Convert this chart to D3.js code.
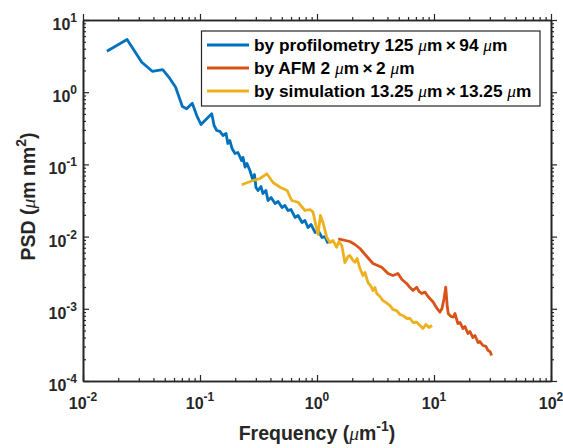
<!DOCTYPE html>
<html>
<head>
<meta charset="utf-8">
<script src="https://cdn.jsdelivr.net/npm/d3@7"></script>
<style>
  body { margin: 0; background: #fff; }
  svg { display: block; font-family: "Liberation Sans", Arial, sans-serif; }
</style>
</head>
<body>
<div class="container"></div>
<script>
// data: [frequency (um^-1), PSD (um nm^2)]
const profilometry = [
  [0.016, 3.7], [0.0238, 5.37], [0.0318, 2.6], [0.0391, 1.95], [0.048, 2.06],
  [0.0543, 1.61], [0.0619, 1.17], [0.0707, 0.634], [0.0769, 0.589], [0.0859, 0.705],
  [0.0938, 0.475], [0.102, 0.357], [0.1124, 0.419], [0.126, 0.502], [0.132, 0.346],
  [0.139, 0.295], [0.148, 0.286], [0.157, 0.251], [0.167, 0.268], [0.173, 0.195],
  [0.18, 0.214], [0.188, 0.166], [0.199, 0.1416], [0.211, 0.146], [0.227, 0.113],
  [0.233, 0.125], [0.243, 0.0915], [0.252, 0.103], [0.267, 0.0824], [0.284, 0.0598],
  [0.292, 0.0724], [0.301, 0.0479], [0.313, 0.0435], [0.332, 0.0494], [0.345, 0.0395],
  [0.366, 0.0435], [0.381, 0.0316], [0.405, 0.0348], [0.438, 0.0287], [0.465, 0.0306],
  [0.502, 0.0253], [0.532, 0.027], [0.565, 0.023], [0.6, 0.0237], [0.649, 0.0184],
  [0.689, 0.0196], [0.745, 0.01567], [0.789, 0.0167], [0.838, 0.01337], [0.889, 0.01472],
  [0.962, 0.0114], [1.02, 0.01216], [1.104, 0.00972], [1.17, 0.01], [1.242, 0.00802]
];
const afm = [
  [1.52, 0.00933], [1.91, 0.00855], [2.11, 0.00778], [2.33, 0.00684], [2.62, 0.00547],
  [3.01, 0.00424], [3.57, 0.00377], [4.05, 0.00308], [4.47, 0.00289], [4.92, 0.00308],
  [5.32, 0.00255], [5.84, 0.00224], [6.24, 0.00197], [6.62, 0.00179], [7.11, 0.00199],
  [7.45, 0.00174], [7.85, 0.00163], [8.37, 0.0017], [8.89, 0.00148], [9.86, 0.00123],
  [10.6, 0.00101], [11.25, 0.000897], [11.7, 0.00101], [12.2, 0.00139], [12.6, 0.00199],
  [13.0, 0.00105], [13.25, 0.000853], [14.0, 0.000782], [14.6, 0.000766], [15.1, 0.000861],
  [16.0, 0.000626], [16.7, 0.000646], [17.7, 0.000533], [18.4, 0.000569], [19.5, 0.000455],
  [20.3, 0.000485], [21.5, 0.0004], [22.4, 0.000427], [23.8, 0.000341], [24.7, 0.000352],
  [26.2, 0.00031], [27.8, 0.000301], [29.0, 0.000264], [30.1, 0.000256], [31.1, 0.000225]
];
const simulation = [
  [0.227, 0.0522], [0.284, 0.0598], [0.326, 0.0638], [0.372, 0.0741], [0.421, 0.0561],
  [0.483, 0.0483], [0.555, 0.0435], [0.608, 0.0316], [0.689, 0.0299], [0.789, 0.023],
  [0.871, 0.0237], [0.925, 0.0218], [0.979, 0.01425], [1.02, 0.0107], [1.07, 0.0196],
  [1.125, 0.01567], [1.21, 0.00981], [1.29, 0.00828], [1.37, 0.00883], [1.47, 0.00713],
  [1.54, 0.00855], [1.63, 0.00753], [1.73, 0.00438], [1.84, 0.0053], [1.91, 0.00547],
  [2.03, 0.00467], [2.11, 0.00442], [2.2, 0.00498], [2.33, 0.00361], [2.47, 0.00289],
  [2.57, 0.00318], [2.73, 0.00231], [2.9, 0.00204], [3.01, 0.00179], [3.13, 0.00197],
  [3.24, 0.00163], [3.45, 0.00148], [3.66, 0.0013], [3.89, 0.00122], [4.21, 0.00111],
  [4.47, 0.000977], [4.8, 0.000946], [5.12, 0.000834], [5.43, 0.000807], [5.88, 0.000734],
  [6.24, 0.000734], [6.62, 0.000646], [7.11, 0.000652], [7.59, 0.000587], [8.05, 0.000533],
  [8.55, 0.000607], [9.06, 0.000551], [9.62, 0.000587]
];

const seriesNames = [
  ["by profilometry 125 ", "\u03bc", "m\u2009\u00d7\u200994 ", "\u03bc", "m"],
  ["by AFM 2 ", "\u03bc", "m\u2009\u00d7\u20092 ", "\u03bc", "m"],
  ["by simulation 13.25 ", "\u03bc", "m\u2009\u00d7\u200913.25 ", "\u03bc", "m"]
];
const seriesColors = ["#0072BD", "#D95319", "#EDB120"];
const xDecades = [-2, -1, 0, 1, 2];
const yDecades = [-4, -3, -2, -1, 0, 1];

const width = 563, height = 448;
const margin = { top: 20, right: 12, bottom: 67, left: 83 };
const axisColor = "#262626";

const svg = d3.select(".container").append("svg")
  .attr("width", width).attr("height", height);

const x = d3.scaleLog().domain([1e-2, 1e2]).range([margin.left, width - margin.right]);
const y = d3.scaleLog().domain([1e-4, 1e1]).range([height - margin.bottom, margin.top]);

const xMajor = xDecades.map(e => Math.pow(10, e));
const yMajor = yDecades.map(e => Math.pow(10, e));
function minors(decs) {
  const out = [];
  decs.slice(0, -1).forEach(e => { for (let k = 2; k <= 9; k++) out.push(k * Math.pow(10, e)); });
  return out;
}

// lines
const line = d3.line().x(d => x(d[0])).y(d => y(d[1]));
[profilometry, afm, simulation].forEach((s, i) => {
  svg.append("path").datum(s)
    .attr("d", line)
    .attr("fill", "none")
    .attr("stroke", seriesColors[i])
    .attr("stroke-width", 2.8)
    .attr("stroke-linejoin", "round");
});

// axes (box, ticks pointing in)
function styleAxis(g) {
  g.selectAll("path").attr("stroke", axisColor).attr("stroke-width", 1.6);
  g.selectAll("line").attr("stroke", axisColor).attr("stroke-width", 1.2);
  g.selectAll("text").remove();
}
const plotBottom = height - margin.bottom, plotTop = margin.top;
const plotLeft = margin.left, plotRight = width - margin.right;

[[d3.axisBottom, plotBottom, 1], [d3.axisTop, plotTop, -1]].forEach(([ax, yy, dir]) => {
  svg.append("g").attr("transform", `translate(0,${yy})`)
    .call(ax(x).tickValues(minors(xDecades)).tickSize(-3 * dir).tickSizeOuter(0).tickFormat(""))
    .call(styleAxis);
  svg.append("g").attr("transform", `translate(0,${yy})`)
    .call(ax(x).tickValues(xMajor).tickSize(-6 * dir).tickSizeOuter(0).tickFormat(""))
    .call(styleAxis);
});
[[d3.axisLeft, plotLeft, 1], [d3.axisRight, plotRight, -1]].forEach(([ax, xx, dir]) => {
  svg.append("g").attr("transform", `translate(${xx},0)`)
    .call(ax(y).tickValues(minors(yDecades)).tickSize(-3 * dir).tickSizeOuter(0).tickFormat(""))
    .call(styleAxis);
  svg.append("g").attr("transform", `translate(${xx},0)`)
    .call(ax(y).tickValues(yMajor).tickSize(-6 * dir).tickSizeOuter(0).tickFormat(""))
    .call(styleAxis);
});

// tick labels 10^n
function powLabel(sel, e) {
  sel.append("tspan").text("10");
  sel.append("tspan").attr("dy", -8).attr("font-size", 12).text(e);
}
xDecades.forEach(e => {
  const t = svg.append("text")
    .attr("x", x(Math.pow(10, e))).attr("y", plotBottom + 28)
    .attr("text-anchor", "middle").attr("font-size", 16).attr("font-weight", "bold")
    .attr("fill", axisColor);
  powLabel(t, e);
});
yDecades.forEach(e => {
  const t = svg.append("text")
    .attr("x", plotLeft - 6).attr("y", y(Math.pow(10, e)) + 10)
    .attr("text-anchor", "end").attr("font-size", 16).attr("font-weight", "bold")
    .attr("fill", axisColor);
  powLabel(t, e);
});

// axis titles
const mu = sel => sel.append("tspan").attr("font-family", "Liberation Serif, serif")
  .attr("font-style", "italic").attr("font-weight", "normal").text("\u03bc");
const xl = svg.append("text")
  .attr("x", (plotLeft + plotRight) / 2).attr("y", 440)
  .attr("text-anchor", "middle").attr("font-size", 19.5).attr("font-weight", "bold")
  .attr("fill", axisColor);
xl.append("tspan").text("Frequency (");
mu(xl);
xl.append("tspan").text("m");
xl.append("tspan").attr("dy", -9).attr("font-size", 14).text("-1");
xl.append("tspan").attr("dy", 9).text(")");

const yl = svg.append("text")
  .attr("transform", `translate(35,${(plotTop + plotBottom) / 2 - 4}) rotate(-90)`)
  .attr("text-anchor", "middle").attr("font-size", 19.5).attr("font-weight", "bold")
  .attr("fill", axisColor);
yl.append("tspan").text("PSD (");
mu(yl);
yl.append("tspan").text("m nm");
yl.append("tspan").attr("dy", -9).attr("font-size", 14).text("2");
yl.append("tspan").attr("dy", 9).text(")");

// legend
const lg = svg.append("g");
lg.append("rect")
  .attr("x", 201.5).attr("y", 31).attr("width", 338.5).attr("height", 75)
  .attr("fill", "#fff").attr("stroke", axisColor).attr("stroke-width", 1.2);
seriesNames.forEach((parts, i) => {
  const yy = 45 + i * 23;
  lg.append("line").attr("x1", 207).attr("x2", 249).attr("y1", yy).attr("y2", yy)
    .attr("stroke", seriesColors[i]).attr("stroke-width", 2.8);
  const t = lg.append("text").attr("x", 254).attr("y", yy + 6)
    .attr("font-size", 17.3).attr("font-weight", "bold").attr("fill", "#000");
  parts.forEach(p => {
    if (p === "\u03bc") mu(t);
    else t.append("tspan").text(p);
  });
});
</script>
</body>
</html>
